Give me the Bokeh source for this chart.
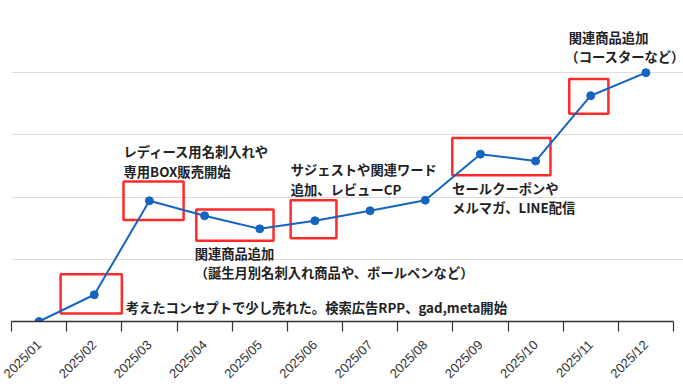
import math
from bokeh.plotting import figure
from bokeh.models import FixedTicker, ColumnDataSource, LabelSet
from bokeh.core.properties import value
from bokeh.embed import file_html
from bokeh.resources import INLINE

# ---- data ----
months = ["2025/01", "2025/02", "2025/03", "2025/04", "2025/05", "2025/06",
          "2025/07", "2025/08", "2025/09", "2025/10", "2025/11", "2025/12"]
sales = [0.0, 0.43, 1.94, 1.70, 1.49, 1.62, 1.78, 1.95, 2.69, 2.58, 3.63, 4.0]

# highlight boxes (data coordinates: month index units / value units)
box_left = [0.89, 2.03, 3.35, 5.06, 7.99, 10.11]
box_right = [2.00, 3.12, 4.75, 5.89, 9.77, 10.82]
box_bottom = [0.13, 1.63, 1.30, 1.34, 2.35, 3.34]
box_top = [0.76, 2.25, 1.80, 1.95, 2.95, 3.90]

# annotation texts
note_text = [
    "考えたコンセプトで少し売れた。検索広告RPP、gad,meta開始",
    "レディース用名刺入れや",
    "専用BOX販売開始",
    "サジェストや関連ワード",
    "追加、レビューCP",
    "関連商品追加",
    "（誕生月別名刺入れ商品や、ボールペンなど）",
    "セールクーポンや",
    "メルマガ、LINE配信",
    "関連商品追加",
    "（コースターなど）",
]
note_x = [2.07, 2.03, 2.03, 5.06, 5.06, 3.32, 3.32, 7.99, 7.99, 10.10, 10.04]
note_y = [0.22, 2.73, 2.41, 2.44, 2.12, 1.09, 0.78, 2.14, 1.83, 4.57, 4.26]

grid_values = [1, 2, 3, 4, 5]

# ---- figure ----
n = len(months)
xs = [i + 0.5 for i in range(n)]
frame_w = 672           # frame runs to the right page edge so text is not clipped
x_end = n * frame_w / 662.0

p = figure(width=683, height=389, x_range=(0, x_end), y_range=(0, 5),
           output_backend="svg", toolbar_location=None,
           min_border_left=11, min_border_right=0, min_border_top=10, min_border_bottom=62)
p.outline_line_color = None
p.background_fill_color = "white"
p.border_fill_color = "white"

p.yaxis.visible = False
p.xgrid.visible = False
p.ygrid.ticker = FixedTicker(ticks=grid_values)
p.ygrid.grid_line_color = "#dddddd"
p.ygrid.grid_line_width = 1
p.ygrid.bounds = (0, n)

ax = p.xaxis[0]
ax.bounds = (0, n)
ax.ticker = FixedTicker(ticks=xs, minor_ticks=list(range(n + 1)))
ax.major_label_overrides = {x: m for x, m in zip(xs, months)}
ax.major_tick_line_color = None
ax.major_tick_out = 0
ax.major_tick_in = 0
ax.minor_tick_line_color = "#333333"
ax.minor_tick_line_width = 1.2
ax.minor_tick_out = 10
ax.minor_tick_in = 0
ax.axis_line_color = "#333333"
ax.axis_line_width = 1.5
ax.axis_label_standoff = 0
ax.major_label_orientation = math.pi / 4
ax.major_label_text_font = "Liberation Sans"
ax.major_label_text_font_size = "13px"
ax.major_label_text_line_height = 1.0
ax.major_label_text_color = "#333333"
ax.major_label_standoff = 11

# boxes
p.quad(left=box_left, right=box_right, bottom=box_bottom, top=box_top,
       fill_color=None, line_color="#ff2a2a", line_width=2.5)

# line + points
src = ColumnDataSource(dict(x=xs, y=sales))
p.line("x", "y", source=src, line_color="#1565c0", line_width=2)
p.scatter("x", "y", source=src, size=8, fill_color="#1565c0", line_color="#1565c0")

# notes
nsrc = ColumnDataSource(dict(x=note_x, y=note_y, t=note_text))
labels = LabelSet(x="x", y="y", text="t", source=nsrc,
                  text_font=value("Noto Sans CJK JP"), text_font_style="bold",
                  text_font_size="13.3px", text_color="#222222",
                  text_align="left", text_baseline="middle")
p.add_layout(labels)

open("out.html", "w").write(file_html(p, INLINE))
